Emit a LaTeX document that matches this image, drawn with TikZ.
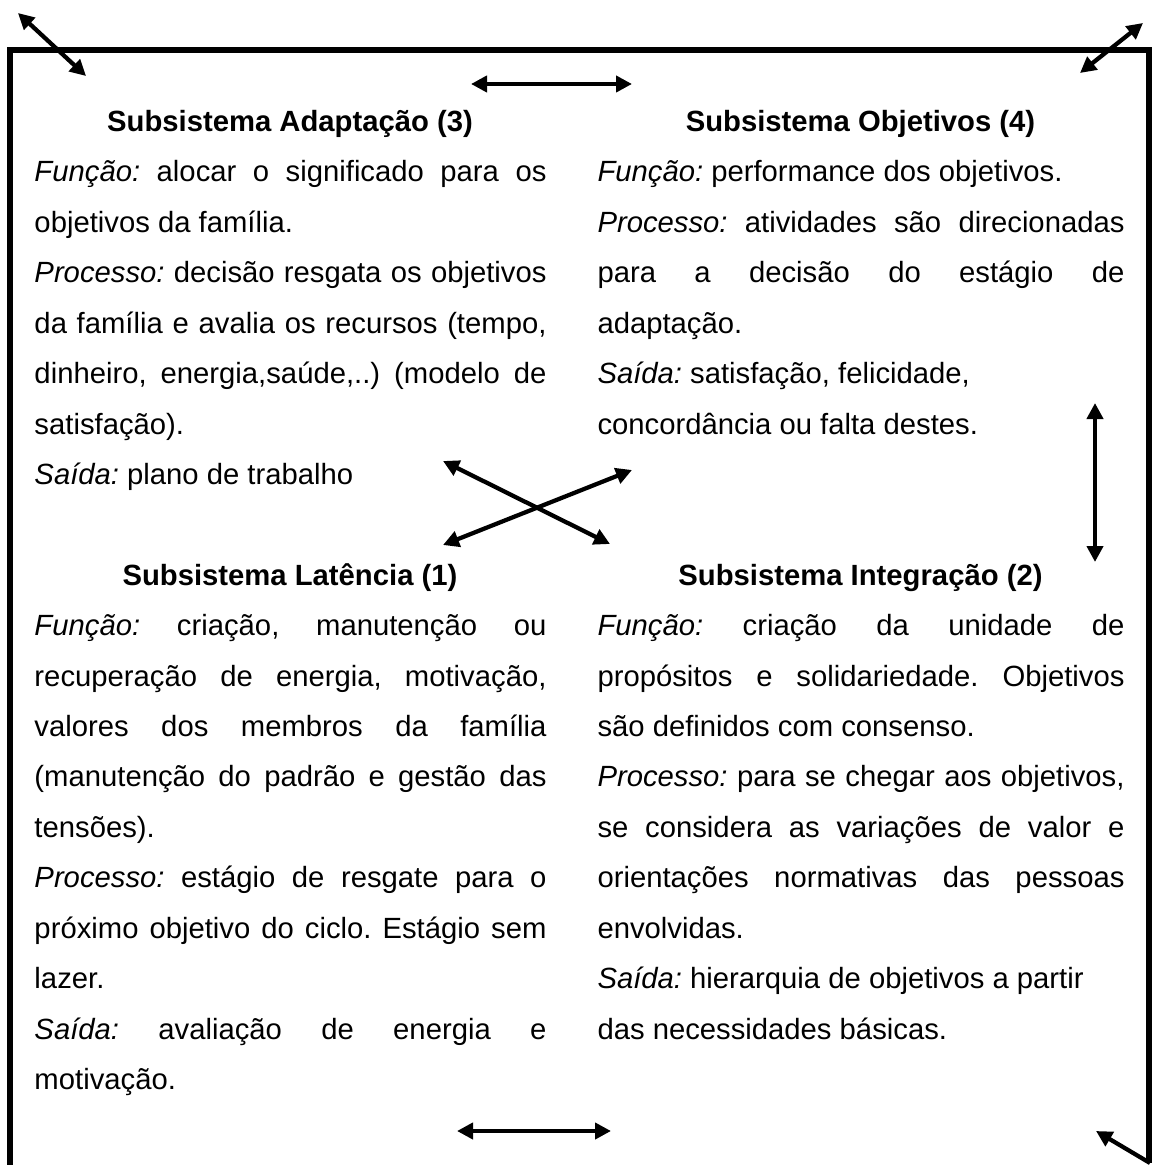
\documentclass[tikz,border=0pt]{standalone}
\usepackage{fontspec}
\setmainfont{Liberation Sans}
\usetikzlibrary{arrows.meta}
\tolerance=10000
\hbadness=10000
\hyphenpenalty=10000
\exhyphenpenalty=10000
\frenchspacing

\begin{document}
\begin{tikzpicture}
[x=0.4pt,y=-0.4pt,%
  every node/.style={inner sep=0pt,font=\fontsize{11.7pt}{20.17pt}\selectfont},%
  head/.style={anchor=base,font=\fontsize{11.7pt}{20.17pt}\selectfont\bfseries},%
  body/.style={anchor=base west,align=justify},%
  arw/.style={<->,line width=1.7pt},%
  >={Triangle[length=6.4pt,width=6.4pt]}]
\useasboundingbox (0,0) rectangle (1173,1165);
\draw[line width=2.4pt,line join=miter] (10,1165) -- (10,50) -- (1149,50) -- (1149,1163);

\node[head] (3) at (290,131.5) {Subsistema Adaptação (3)};
\node[body,text width=204.8pt] (t3) at (34,181.9)
  {\textit{Função:} alocar o significado para os\linebreak objetivos da família.\par
   \textit{Processo:} decisão resgata os objetivos\linebreak da família e avalia os recursos (tempo,\linebreak
   dinheiro, energia,saúde,..) (modelo de\linebreak satisfação).\par
   \textit{Saída:} plano de trabalho};

\node[head] (4) at (860.5,131.5) {Subsistema Objetivos (4)};
\node[body,text width=210.8pt] (t4) at (597,181.9)
  {\textit{Função:} performance dos objetivos.\par
   \textit{Processo:} atividades são direcionadas\linebreak para a decisão do estágio de\linebreak adaptação.\par
   \textit{Saída:} satisfação, felicidade,\newline concordância ou falta destes.};

\node[head] (1) at (290,585.3) {Subsistema Latência (1)};
\node[body,text width=204.8pt] (t1) at (34,635.7)
  {\textit{Função:} criação, manutenção ou\linebreak recuperação de energia, motivação,\linebreak
   valores dos membros da família\linebreak (manutenção do padrão e gestão das\linebreak tensões).\par
   \textit{Processo:} estágio de resgate para o\linebreak próximo objetivo do ciclo. Estágio sem\linebreak lazer.\par
   \textit{Saída:} avaliação de energia e\linebreak motivação.};

\node[head] (2) at (860.5,585.3) {Subsistema Integração (2)};
\node[body,text width=210.8pt] (t2) at (597,635.7)
  {\textit{Função:} criação da unidade de\linebreak propósitos e solidariedade. Objetivos\linebreak são definidos com consenso.\par
   \textit{Processo:} para se chegar aos objetivos,\linebreak se considera as variações de valor e\linebreak
   orientações normativas das pessoas\linebreak envolvidas.\par
   \textit{Saída:} hierarquia de objetivos a partir\newline das necessidades básicas.};

\coordinate (tl1) at (18,13);
\coordinate (tl2) at (86,76);
\coordinate (tr1) at (1080,73);
\coordinate (tr2) at (1143,23);
\coordinate (tm1) at (471,84);
\coordinate (tm2) at (632,84);
\coordinate (x1) at (443,461);
\coordinate (x2) at (610,544);
\coordinate (x3) at (443,545);
\coordinate (x4) at (632,470);
\coordinate (v1) at (1095,403);
\coordinate (v2) at (1095,562);
\coordinate (bm1) at (457,1131);
\coordinate (bm2) at (611,1131);
\coordinate (br1) at (1150,1163);
\coordinate (br2) at (1096,1131);

\draw[arw] (tl1) -- (tl2);
\draw[arw] (tr1) -- (tr2);
\draw[arw] (tm1) -- (tm2);
\draw[arw] (x1) -- (x2);
\draw[arw] (x3) -- (x4);
\draw[arw] (v1) -- (v2);
\draw[arw] (bm1) -- (bm2);
\draw[arw,<-] (br2) -- (br1);
\end{tikzpicture}
\end{document}
